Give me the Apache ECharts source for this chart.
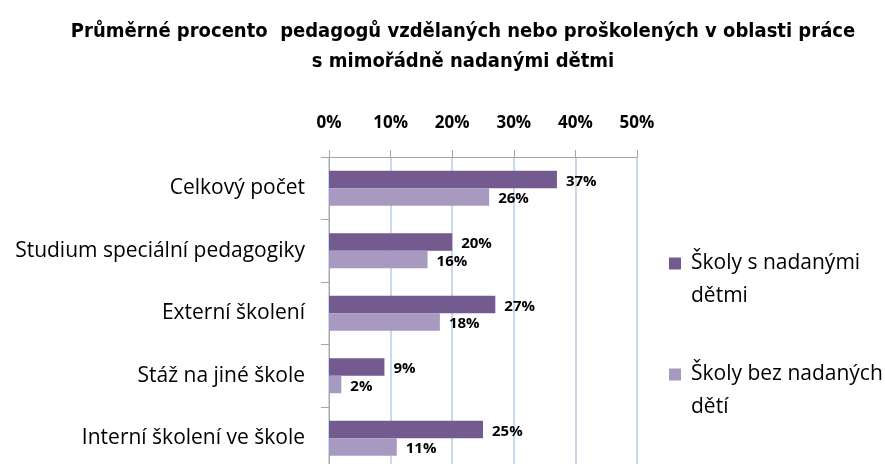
<!DOCTYPE html>
<html>
<head>
<meta charset="utf-8">
<script src="https://cdn.jsdelivr.net/npm/echarts@6/dist/echarts.min.js"></script>
<style>
  html, body { margin: 0; padding: 0; background: #fff; overflow: hidden; }
  /* a little taller than the window so the last band runs off the bottom edge like in the source */
  #chart { width: 885px; height: 476px; }
</style>
</head>
<body>
<div id="chart"></div>
<script>
// data
const categories = ['Celkový počet', 'Studium speciální pedagogiky', 'Externí školení', 'Stáž na jiné škole', 'Interní školení ve škole']
const withGifted = [37, 20, 27, 9, 25]
const withoutGifted = [26, 16, 18, 2, 11]
const seriesNames = ['Školy s nadanými dětmi', 'Školy bez nadaných dětí']
const legendLabels = ['Školy s nadanými\ndětmi', 'Školy bez nadaných\ndětí']
const titleText = 'Průměrné procento  pedagogů vzdělaných nebo proškolených v oblasti práce\ns mimořádně nadanými dětmi'

const chart = echarts.init(document.getElementById('chart'))

const labelStyle = {
  show: true,
  position: 'right',
  distance: 9,
  offset: [0, 2],
  formatter: p => p.value + '%',
  color: '#000',
  fontWeight: 'bold',
  fontSize: 15,
  fontFamily: 'Open Sans'
}

// one legend per series so the swatch sits on the first text line
// (the leading blank line shifts the text block down by one line)
const makeLegend = (i, top) => ({
  orient: 'vertical',
  left: 664,
  top: top,
  itemWidth: 12,
  itemHeight: 12,
  icon: 'rect',
  data: [seriesNames[i]],
  formatter: () => '\n' + legendLabels[i].split('\n').map(s => '{s|}' + s).join('\n'),
  textStyle: {
    fontFamily: 'Open Sans',
    fontSize: 21,
    lineHeight: 33,
    color: '#000',
    rich: { s: { width: 5 } }
  }
})

chart.setOption({
  animation: false,
  title: {
    text: titleText,
    left: 458,
    textAlign: 'center',
    top: 12,
    textStyle: {
      fontFamily: 'Liberation Sans Narrow, DejaVu Sans Condensed, sans-serif',
      fontWeight: 'bold',
      fontSize: 20,
      lineHeight: 30,
      color: '#000'
    }
  },
  legend: [makeLegend(0, 209), makeLegend(1, 320)],
  grid: { left: 329, top: 157, width: 308, height: 312.5, containLabel: false },
  xAxis: {
    type: 'value',
    position: 'top',
    min: 0,
    max: 50,
    interval: 10,
    axisLine: { show: true, lineStyle: { color: '#a6a6a6', width: 1 } },
    axisTick: { show: true, length: 7, lineStyle: { color: '#a6a6a6' } },
    axisLabel: {
      margin: 25,
      formatter: v => v + '%',
      color: '#000',
      fontWeight: 'bold',
      fontSize: 17,
      fontFamily: 'Open Sans'
    },
    splitLine: { show: true, lineStyle: { color: '#b8cce6', width: 1.5 } }
  },
  yAxis: {
    type: 'category',
    inverse: true,
    data: categories,
    axisLine: { show: true, lineStyle: { color: '#a6a6a6', width: 1 } },
    axisTick: { show: true, length: 8, lineStyle: { color: '#a6a6a6' } },
    axisLabel: {
      margin: 24,
      color: '#000',
      fontSize: 21,
      fontFamily: 'Open Sans'
    }
  },
  series: [
    {
      name: seriesNames[0],
      type: 'bar',
      data: withGifted,
      barGap: '0%',
      barCategoryGap: '44%',
      itemStyle: { color: '#735a8f' },
      label: labelStyle
    },
    {
      name: seriesNames[1],
      type: 'bar',
      data: withoutGifted,
      itemStyle: { color: '#a799bf' },
      label: labelStyle
    }
  ]
})
</script>
</body>
</html>
